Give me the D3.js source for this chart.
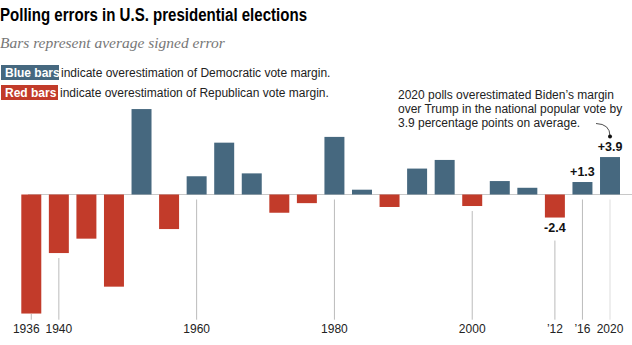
<!DOCTYPE html>
<html>
<head>
<meta charset="utf-8">
<script src="https://cdn.jsdelivr.net/npm/d3@7"></script>
<style>
	body { margin: 0; background: #fff; }
	text { font-family: "Liberation Sans", Arial, sans-serif; }
</style>
</head>
<body>
<div id="chart"></div>
<script>
const years = [1936, 1940, 1944, 1948, 1952, 1956, 1960, 1964, 1968, 1972, 1976,
	1980, 1984, 1988, 1992, 1996, 2000, 2004, 2008, 2012, 2016, 2020];
const errors = [-12.4, -6.1, -4.6, -9.6, 8.9, -3.6, 1.9, 5.4, 2.2, -1.9, -0.9,
	6.0, 0.5, -1.3, 2.7, 3.6, -1.2, 1.4, 0.7, -2.4, 1.3, 3.9];
const tickYears = [1936, 1940, 1960, 1980, 2000, 2012, 2016, 2020];
const tickLabels = ["1936", "1940", "1960", "1980", "2000", "\u201912", "\u201916", "2020"];
const labelYears = [2012, 2016, 2020];
const labelTexts = ["-2.4", "+1.3", "+3.9"];

const data = years.map((y, i) => ({year: y, value: errors[i]}));

const blue = "#46687f", red = "#c23b2a";
const width = 632, height = 345;

const svg = d3.select("#chart")
	.append("svg")
		.attr("width", width)
		.attr("height", height);

// title and subtitle
svg.append("text")
	.attr("x", 0).attr("y", 21)
	.attr("font-weight", "bold")
	.attr("font-size", 18)
	.attr("textLength", 307)
	.attr("lengthAdjust", "spacingAndGlyphs")
	.text("Polling errors in U.S. presidential elections");

svg.append("text")
	.attr("x", 0).attr("y", 48)
	.style("font-family", "'Liberation Serif', serif")
	.attr("font-style", "italic")
	.attr("font-size", 15.5)
	.attr("fill", "#777")
	.text("Bars represent average signed error");

// legend
const legend = [
	{key: "Blue bars", color: blue, rest: "indicate overestimation of Democratic vote margin.", y: 65},
	{key: "Red bars", color: red, rest: "indicate overestimation of Republican vote margin.", y: 85}
];
legend.forEach(d => {
	const w = d.key === "Blue bars" ? 58 : 57;
	svg.append("rect")
		.attr("x", 1).attr("y", d.y)
		.attr("width", w).attr("height", 15)
		.attr("fill", d.color);
	svg.append("text")
		.attr("x", 5).attr("y", d.y + 11.5)
		.attr("font-weight", "bold")
		.attr("font-size", 12)
		.attr("fill", "#fff")
		.text(d.key);
	svg.append("text")
		.attr("x", w + 3).attr("y", d.y + 11.5)
		.attr("font-size", 12)
		.attr("fill", "#222")
		.text(d.rest);
});

// scales
const x = d3.scaleBand()
	.domain(years)
	.range([21.3, 620])
	.paddingInner(0.275);

const y = d3.scaleLinear()
	.domain([-13, 9.5])
	.range([319.3, 103.3]);

const tickBottom = 319.7;

// baseline
svg.append("line")
	.attr("x1", 28).attr("x2", width)
	.attr("y1", y(0)).attr("y2", y(0))
	.attr("stroke", "#c8c8c8")
	.attr("stroke-width", 1);

// tick lines
svg.selectAll(".tick-line")
	.data(tickYears)
	.join("line")
		.attr("class", "tick-line")
		.attr("x1", d => x(d) + x.bandwidth() / 2)
		.attr("x2", d => x(d) + x.bandwidth() / 2)
		.attr("y1", d => {
			const v = errors[years.indexOf(d)];
			if (d === 2012) return y(v) + 23;
			return Math.min(Math.max(y(0), y(v)) + 5, 314);
		})
		.attr("y2", tickBottom)
		.attr("stroke", d => d === 2020 ? "#ddd" : "#bbb")
		.attr("stroke-width", 1);

// bars
svg.selectAll(".bar")
	.data(data)
	.join("rect")
		.attr("class", "bar")
		.attr("x", d => x(d.year))
		.attr("width", x.bandwidth())
		.attr("y", d => y(Math.max(0, d.value)))
		.attr("height", d => Math.abs(y(d.value) - y(0)))
		.attr("fill", d => d.value >= 0 ? blue : red);

// tick labels (1936 nudged left so it clears 1940)
svg.selectAll(".tick-label")
	.data(tickYears)
	.join("text")
		.attr("class", "tick-label")
		.attr("x", d => x(d) + x.bandwidth() / 2 + (d === 1936 ? -5 : 0))
		.attr("y", 333)
		.attr("text-anchor", "middle")
		.attr("font-size", 12)
		.attr("fill", "#222")
		.text((d, i) => tickLabels[i]);

// value labels
svg.selectAll(".value-label")
	.data(labelYears)
	.join("text")
		.attr("class", "value-label")
		.attr("x", d => x(d) + x.bandwidth() / 2)
		.attr("y", d => {
			const v = errors[years.indexOf(d)];
			return v >= 0 ? y(v) - 6 : y(v) + 14;
		})
		.attr("text-anchor", "middle")
		.attr("font-weight", "bold")
		.attr("font-size", 12.5)
		.attr("fill", "#111")
		.text((d, i) => labelTexts[i]);

// annotation
const note = ["2020 polls overestimated Biden\u2019s margin",
	"over Trump in the national popular vote by",
	"3.9 percentage points on average."];
svg.append("text")
	.attr("x", 398).attr("y", 99)
	.attr("font-size", 12)
	.attr("fill", "#222")
	.selectAll("tspan")
	.data(note)
	.join("tspan")
		.attr("x", 398)
		.attr("dy", (d, i) => i === 0 ? 0 : 14)
		.text(d => d);

const cx = x(2020) + x.bandwidth() / 2;
svg.append("path")
	.attr("d", `M596,123.5 Q${cx},124 ${cx},136`)
	.attr("fill", "none")
	.attr("stroke", "#222")
	.attr("stroke-width", 0.8);
svg.append("circle")
	.attr("cx", cx).attr("cy", 136.5)
	.attr("r", 2)
	.attr("fill", "#111");
</script>
</body>
</html>
